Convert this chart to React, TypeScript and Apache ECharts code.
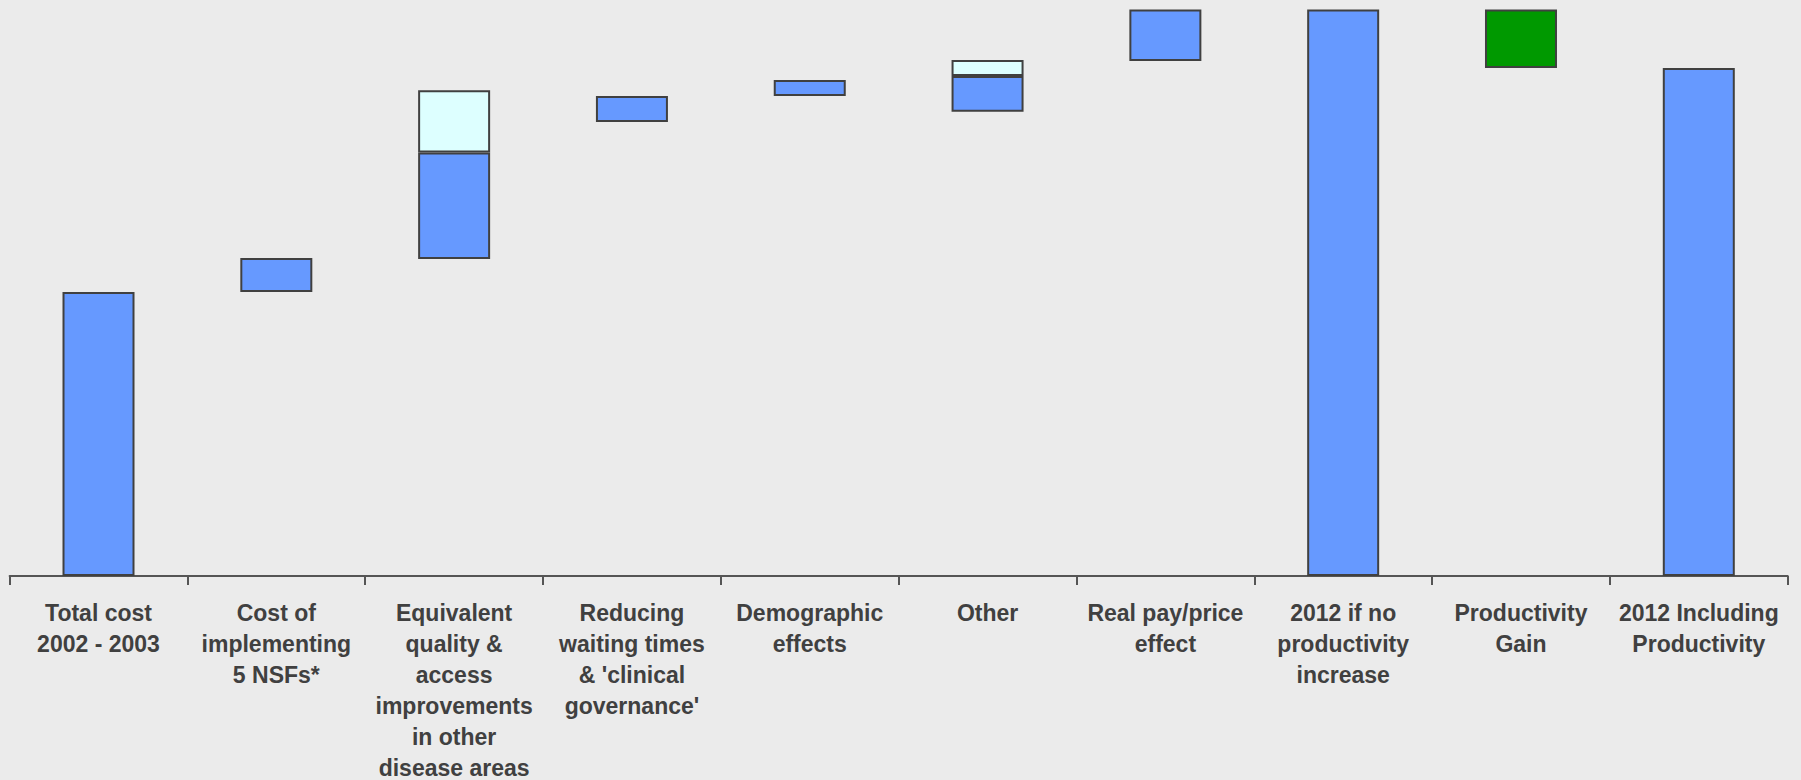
import React, { useEffect, useRef } from "react";
import * as echarts from "echarts";

// Category labels (line breaks as in the reference)
const categories: string[] = [
  "Total cost\n2002 - 2003",
  "Cost of\nimplementing\n5 NSFs*",
  "Equivalent\nquality &\naccess\nimprovements\nin other\ndisease areas",
  "Reducing\nwaiting times\n& 'clinical\ngovernance'",
  "Demographic\neffects",
  "Other",
  "Real pay/price\neffect",
  "2012 if no\nproductivity\nincrease",
  "Productivity\nGain",
  "2012 Including\nProductivity",
];

// Floating start of each bar (estimated, £bn-like units)
const barStart: number[] = [0, 68.0, 75.9, 108.7, 114.9, 111.1, 123.3, 0, 121.6, 0];
// Main (blue) segment heights
const mainValues: (number | string)[] = [68.0, 8.1, 25.5, 6.2, 3.8, 8.6, 12.3, 135.6, "-", 121.6];
// Additional (light cyan) segment heights
const extraValues: (number | string)[] = ["-", "-", 14.9, "-", "-", 3.8, "-", "-", "-", "-"];
// Productivity gain (green) segment heights
const gainValues: (number | string)[] = ["-", "-", "-", "-", "-", "-", "-", "-", 14.0, "-"];

const yMax = 135.6;

export default function App() {
  const ref = useRef<HTMLDivElement>(null);

  useEffect(() => {
    if (!ref.current) return;
    const chart = echarts.init(ref.current, null, { renderer: "svg" });
    const border = { borderColor: "#404040", borderWidth: 2 };
    chart.setOption({
      animation: false,
      backgroundColor: "#ebebeb",
      grid: {
        left: 9.6,
        right: 13.3,
        top: 9.5,
        bottom: 204,
        containLabel: false,
        outerBoundsMode: "none",
      },
      xAxis: {
        type: "category",
        data: categories,
        axisLine: { show: true, lineStyle: { color: "#555555", width: 2 } },
        axisTick: { show: true, length: 9, lineStyle: { color: "#555555", width: 2 } },
        axisLabel: {
          interval: 0,
          margin: 21,
          color: "#404040",
          fontFamily: "'Liberation Sans', Arial, sans-serif",
          fontWeight: "bold",
          fontSize: 23,
          lineHeight: 31,
          align: "center",
        },
      },
      yAxis: {
        type: "value",
        min: 0,
        max: yMax,
        show: false,
        splitLine: { show: false },
      },
      series: [
        {
          type: "bar",
          stack: "w",
          data: barStart,
          barWidth: 72,
          itemStyle: { color: "transparent", borderWidth: 0 },
          silent: true,
        },
        {
          type: "bar",
          stack: "w",
          data: mainValues,
          barWidth: 72,
          itemStyle: { color: "#6699ff", ...border },
        },
        {
          type: "bar",
          stack: "w",
          data: extraValues,
          barWidth: 72,
          itemStyle: { color: "#ddffff", ...border },
        },
        {
          type: "bar",
          stack: "w",
          data: gainValues,
          barWidth: 72,
          itemStyle: { color: "#009900", ...border },
        },
      ],
    });
    return () => chart.dispose();
  }, []);

  return (
    <div
      ref={ref}
      style={{ position: "fixed", left: 0, top: 0, width: 1801, height: 780 }}
    />
  );
}
